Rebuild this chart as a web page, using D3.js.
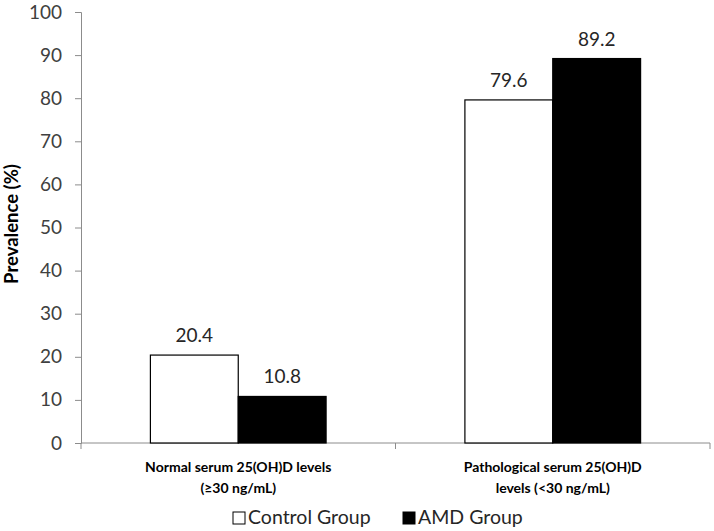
<!DOCTYPE html>
<html><head><meta charset="utf-8">
<script src="https://cdn.jsdelivr.net/npm/d3@7"></script>
<style>body{margin:0;background:#fff}svg{display:block}text{font-family:Lato,"Open Sans",sans-serif}</style>
</head><body>
<svg id="chart" width="714" height="531"></svg>
<script>
const categories = [["Normal serum 25(OH)D levels","(≥30 ng/mL)"],["Pathological serum 25(OH)D","levels (<30 ng/mL)"]];
const seriesNames = ["Control Group","AMD Group"];
const controlValues = [20.4, 79.6];
const amdValues = [10.8, 89.2];
const yTicks = [0,10,20,30,40,50,60,70,80,90,100];
const fills = ["#ffffff","#000000"];

const svg = d3.select("#chart");
const m = {left:81, right:710, top:12, bottom:443};
const x0 = d3.scaleBand().domain([0,1]).range([m.left,m.right]).paddingInner(0).paddingOuter(0);
const x1 = d3.scaleBand().domain([0,1]).range([0,x0.bandwidth()]).paddingOuter(0.79).paddingInner(0);
const y = d3.scaleLinear().domain([0,100]).range([m.bottom,m.top]);
const series = [controlValues, amdValues];

// y axis
const yAxis = d3.axisLeft(y).tickValues(yTicks).tickSize(6).tickPadding(13);
const gy = svg.append("g").attr("transform",`translate(${m.left},0)`).call(yAxis);
gy.select(".domain").attr("stroke","#8c8c8c");
gy.selectAll(".tick line").attr("stroke","#8c8c8c");
gy.selectAll(".tick text").attr("font-size",19).attr("fill","#404040").attr("font-family","Lato,sans-serif");

// x axis
const gx = svg.append("g").attr("transform",`translate(0,${m.bottom})`);
gx.append("line").attr("x1",m.left).attr("x2",m.right).attr("stroke","#8c8c8c");
[0,1,2].forEach(i=>{
  const xx = i<2 ? x0(i) : x0(1)+x0.bandwidth();
  gx.append("line").attr("x1",xx).attr("x2",xx).attr("y1",0).attr("y2",6).attr("stroke","#8c8c8c");
});

// bars
categories.forEach((c,ci)=>{
  series.forEach((vals,si)=>{
    const bx = x0(ci)+x1(si);
    svg.append("rect").attr("x",bx).attr("y",y(vals[ci])).attr("width",x1.bandwidth())
      .attr("height",y(0)-y(vals[ci])).attr("fill",fills[si]).attr("stroke","#000").attr("stroke-width",1.2);
    svg.append("text").attr("x",bx+x1.bandwidth()/2).attr("y",y(vals[ci])-13)
      .attr("text-anchor","middle").attr("font-size",19).attr("fill","#262626").text(vals[ci].toFixed(1));
  });
  const t = svg.append("text").attr("text-anchor","middle").attr("font-size",14).attr("font-weight","bold").attr("fill","#000");
  c.forEach((line,li)=>{
    t.append("tspan").attr("x",x0(ci)+x0.bandwidth()/2).attr("y",472+li*21).text(line);
  });
});

// y title
svg.append("text").attr("transform","translate(18,224) rotate(-90)").attr("text-anchor","middle")
  .attr("font-size",18.5).attr("font-weight","bold").attr("fill","#000").text("Prevalence (%)");

// legend
const legX = [233, 403];
seriesNames.forEach((n,i)=>{
  svg.append("rect").attr("x",legX[i]).attr("y",512).attr("width",12).attr("height",12)
    .attr("fill",fills[i]).attr("stroke","#000").attr("stroke-width",1);
  svg.append("text").attr("x",legX[i]+15).attr("y",524).attr("font-size",19.5).attr("fill","#262626").text(n);
});
</script>
</body></html>
